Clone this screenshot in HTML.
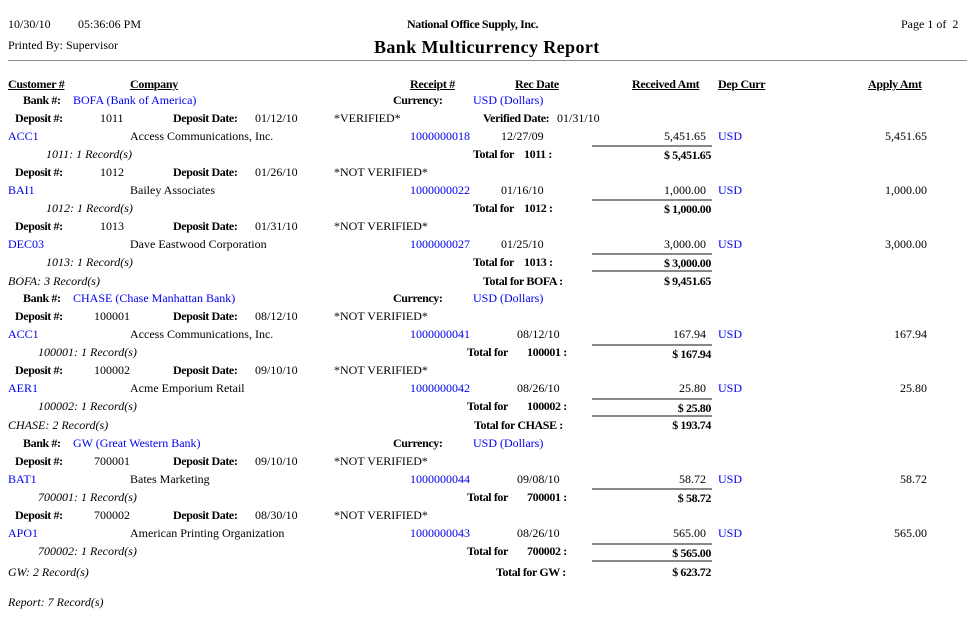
<!DOCTYPE html>
<html><head><meta charset="utf-8"><style>
body{margin:0;width:976px;height:617px;background:#fff;position:relative;overflow:hidden}
.t{position:absolute;font:12px "Liberation Serif",serif;line-height:14px;white-space:nowrap;color:#000}
.b{font-weight:bold;letter-spacing:-0.4px}.u{font-weight:bold;text-decoration:underline;letter-spacing:-0.3px}.i{font-style:italic}.l{color:#0000ee}
.r{text-align:right}
.hl{position:absolute;height:2px;background:#888;left:592px;width:120px}
</style></head><body>
<div class="t" style="left:8px;top:17px">10/30/10</div>
<div class="t" style="left:78px;top:17px">05:36:06 PM</div>
<div class="t b" style="left:407px;top:17px">National Office Supply, Inc.</div>
<div class="t" style="left:901px;top:17px">Page 1 of&nbsp; 2</div>
<div class="t" style="left:8px;top:38px">Printed By: Supervisor</div>
<div class="t b" style="left:374px;top:37px;font-size:18px;line-height:20px;letter-spacing:0.4px">Bank Multicurrency Report</div>
<div style="position:absolute;left:8px;top:60px;width:959px;height:1px;background:#888"></div>

<div class="t u" style="left:8px;top:77px">Customer #</div>
<div class="t u" style="left:130px;top:77px">Company</div>
<div class="t u" style="left:410px;top:77px">Receipt #</div>
<div class="t u" style="left:515px;top:77px">Rec Date</div>
<div class="t u" style="left:632px;top:77px">Received Amt</div>
<div class="t u" style="left:718px;top:77px">Dep Curr</div>
<div class="t u" style="left:868px;top:77px">Apply Amt</div>

<!-- BOFA -->
<div class="t b" style="left:23px;top:93px">Bank #:</div>
<div class="t l" style="left:73px;top:93px">BOFA (Bank of America)</div>
<div class="t b" style="left:393px;top:93px">Currency:</div>
<div class="t l" style="left:473px;top:93px">USD (Dollars)</div>

<div class="t b" style="left:15px;top:111px">Deposit #:</div><div class="t" style="left:100px;top:111px">1011</div>
<div class="t b" style="left:173px;top:111px">Deposit Date:</div><div class="t" style="left:255px;top:111px">01/12/10</div>
<div class="t" style="left:334px;top:111px">*VERIFIED*</div>
<div class="t b" style="left:483px;top:111px">Verified Date:</div><div class="t" style="left:557px;top:111px">01/31/10</div>
<div class="t l" style="left:8px;top:129px">ACC1</div><div class="t" style="left:130px;top:129px">Access Communications, Inc.</div>
<div class="t l" style="left:410px;top:129px">1000000018</div><div class="t" style="left:501px;top:129px">12/27/09</div>
<div class="t r" style="right:270px;top:129px">5,451.65</div><div class="t l" style="left:718px;top:129px">USD</div>
<div class="t r" style="right:49px;top:129px">5,451.65</div>
<div class="hl" style="top:145px"></div>
<div class="t i" style="left:46px;top:147px">1011: 1 Record(s)</div>
<div class="t b" style="left:473px;top:147px">Total for</div><div class="t b" style="left:524px;top:147px">1011 :</div>
<div class="t b r" style="right:265px;top:148px">$ 5,451.65</div>

<div class="t b" style="left:15px;top:165px">Deposit #:</div><div class="t" style="left:100px;top:165px">1012</div>
<div class="t b" style="left:173px;top:165px">Deposit Date:</div><div class="t" style="left:255px;top:165px">01/26/10</div>
<div class="t" style="left:334px;top:165px">*NOT VERIFIED*</div>
<div class="t l" style="left:8px;top:183px">BAI1</div><div class="t" style="left:130px;top:183px">Bailey Associates</div>
<div class="t l" style="left:410px;top:183px">1000000022</div><div class="t" style="left:501px;top:183px">01/16/10</div>
<div class="t r" style="right:270px;top:183px">1,000.00</div><div class="t l" style="left:718px;top:183px">USD</div>
<div class="t r" style="right:49px;top:183px">1,000.00</div>
<div class="hl" style="top:199px"></div>
<div class="t i" style="left:46px;top:201px">1012: 1 Record(s)</div>
<div class="t b" style="left:473px;top:201px">Total for</div><div class="t b" style="left:524px;top:201px">1012 :</div>
<div class="t b r" style="right:265px;top:202px">$ 1,000.00</div>

<div class="t b" style="left:15px;top:219px">Deposit #:</div><div class="t" style="left:100px;top:219px">1013</div>
<div class="t b" style="left:173px;top:219px">Deposit Date:</div><div class="t" style="left:255px;top:219px">01/31/10</div>
<div class="t" style="left:334px;top:219px">*NOT VERIFIED*</div>
<div class="t l" style="left:8px;top:237px">DEC03</div><div class="t" style="left:130px;top:237px">Dave Eastwood Corporation</div>
<div class="t l" style="left:410px;top:237px">1000000027</div><div class="t" style="left:501px;top:237px">01/25/10</div>
<div class="t r" style="right:270px;top:237px">3,000.00</div><div class="t l" style="left:718px;top:237px">USD</div>
<div class="t r" style="right:49px;top:237px">3,000.00</div>
<div class="hl" style="top:253px"></div>
<div class="t i" style="left:46px;top:255px">1013: 1 Record(s)</div>
<div class="t b" style="left:473px;top:255px">Total for</div><div class="t b" style="left:524px;top:255px">1013 :</div>
<div class="t b r" style="right:265px;top:256px">$ 3,000.00</div>
<div class="hl" style="top:270px"></div>
<div class="t i" style="left:8px;top:274px">BOFA: 3 Record(s)</div>
<div class="t b" style="left:483px;top:274px">Total for BOFA :</div>
<div class="t b r" style="right:265px;top:274px">$ 9,451.65</div>

<!-- CHASE -->
<div class="t b" style="left:23px;top:291px">Bank #:</div>
<div class="t l" style="left:73px;top:291px">CHASE (Chase Manhattan Bank)</div>
<div class="t b" style="left:393px;top:291px">Currency:</div>
<div class="t l" style="left:473px;top:291px">USD (Dollars)</div>
<div class="t b" style="left:15px;top:309px">Deposit #:</div><div class="t" style="left:94px;top:309px">100001</div>
<div class="t b" style="left:173px;top:309px">Deposit Date:</div><div class="t" style="left:255px;top:309px">08/12/10</div>
<div class="t" style="left:334px;top:309px">*NOT VERIFIED*</div>
<div class="t l" style="left:8px;top:327px">ACC1</div><div class="t" style="left:130px;top:327px">Access Communications, Inc.</div>
<div class="t l" style="left:410px;top:327px">1000000041</div><div class="t" style="left:517px;top:327px">08/12/10</div>
<div class="t r" style="right:270px;top:327px">167.94</div><div class="t l" style="left:718px;top:327px">USD</div>
<div class="t r" style="right:49px;top:327px">167.94</div>
<div class="hl" style="top:344px"></div>
<div class="t i" style="left:38px;top:345px">100001: 1 Record(s)</div>
<div class="t b" style="left:467px;top:345px">Total for</div><div class="t b" style="left:527px;top:345px">100001 :</div>
<div class="t b r" style="right:265px;top:347px">$ 167.94</div>

<div class="t b" style="left:15px;top:363px">Deposit #:</div><div class="t" style="left:94px;top:363px">100002</div>
<div class="t b" style="left:173px;top:363px">Deposit Date:</div><div class="t" style="left:255px;top:363px">09/10/10</div>
<div class="t" style="left:334px;top:363px">*NOT VERIFIED*</div>
<div class="t l" style="left:8px;top:381px">AER1</div><div class="t" style="left:130px;top:381px">Acme Emporium Retail</div>
<div class="t l" style="left:410px;top:381px">1000000042</div><div class="t" style="left:517px;top:381px">08/26/10</div>
<div class="t r" style="right:270px;top:381px">25.80</div><div class="t l" style="left:718px;top:381px">USD</div>
<div class="t r" style="right:49px;top:381px">25.80</div>
<div class="hl" style="top:398px"></div>
<div class="t i" style="left:38px;top:399px">100002: 1 Record(s)</div>
<div class="t b" style="left:467px;top:399px">Total for</div><div class="t b" style="left:527px;top:399px">100002 :</div>
<div class="t b r" style="right:265px;top:401px">$ 25.80</div>
<div class="hl" style="top:415px"></div>
<div class="t i" style="left:8px;top:418px">CHASE: 2 Record(s)</div>
<div class="t b" style="left:474px;top:418px">Total for CHASE :</div>
<div class="t b r" style="right:265px;top:418px">$ 193.74</div>

<!-- GW -->
<div class="t b" style="left:23px;top:436px">Bank #:</div>
<div class="t l" style="left:73px;top:436px">GW (Great Western Bank)</div>
<div class="t b" style="left:393px;top:436px">Currency:</div>
<div class="t l" style="left:473px;top:436px">USD (Dollars)</div>
<div class="t b" style="left:15px;top:454px">Deposit #:</div><div class="t" style="left:94px;top:454px">700001</div>
<div class="t b" style="left:173px;top:454px">Deposit Date:</div><div class="t" style="left:255px;top:454px">09/10/10</div>
<div class="t" style="left:334px;top:454px">*NOT VERIFIED*</div>
<div class="t l" style="left:8px;top:472px">BAT1</div><div class="t" style="left:130px;top:472px">Bates Marketing</div>
<div class="t l" style="left:410px;top:472px">1000000044</div><div class="t" style="left:517px;top:472px">09/08/10</div>
<div class="t r" style="right:270px;top:472px">58.72</div><div class="t l" style="left:718px;top:472px">USD</div>
<div class="t r" style="right:49px;top:472px">58.72</div>
<div class="hl" style="top:488px"></div>
<div class="t i" style="left:38px;top:490px">700001: 1 Record(s)</div>
<div class="t b" style="left:467px;top:490px">Total for</div><div class="t b" style="left:527px;top:490px">700001 :</div>
<div class="t b r" style="right:265px;top:491px">$ 58.72</div>

<div class="t b" style="left:15px;top:508px">Deposit #:</div><div class="t" style="left:94px;top:508px">700002</div>
<div class="t b" style="left:173px;top:508px">Deposit Date:</div><div class="t" style="left:255px;top:508px">08/30/10</div>
<div class="t" style="left:334px;top:508px">*NOT VERIFIED*</div>
<div class="t l" style="left:8px;top:526px">APO1</div><div class="t" style="left:130px;top:526px">American Printing Organization</div>
<div class="t l" style="left:410px;top:526px">1000000043</div><div class="t" style="left:517px;top:526px">08/26/10</div>
<div class="t r" style="right:270px;top:526px">565.00</div><div class="t l" style="left:718px;top:526px">USD</div>
<div class="t r" style="right:49px;top:526px">565.00</div>
<div class="hl" style="top:543px"></div>
<div class="t i" style="left:38px;top:544px">700002: 1 Record(s)</div>
<div class="t b" style="left:467px;top:544px">Total for</div><div class="t b" style="left:527px;top:544px">700002 :</div>
<div class="t b r" style="right:265px;top:546px">$ 565.00</div>
<div class="hl" style="top:560px"></div>
<div class="t i" style="left:8px;top:565px">GW: 2 Record(s)</div>
<div class="t b" style="left:496px;top:565px">Total for GW :</div>
<div class="t b r" style="right:265px;top:565px">$ 623.72</div>

<div class="t i" style="left:8px;top:595px">Report: 7 Record(s)</div>
</body></html>
